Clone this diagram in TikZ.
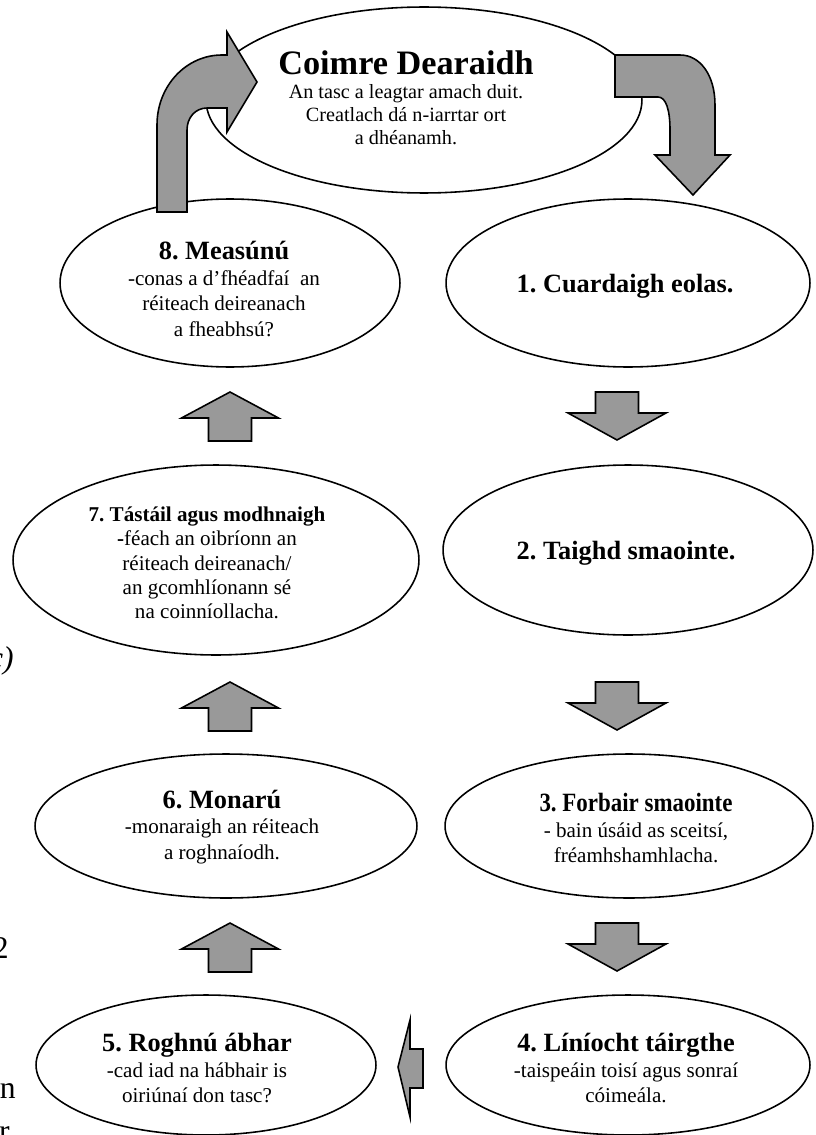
\documentclass[tikz,border=0pt]{standalone}
\usepackage{fontspec}
\usepackage{graphicx}
\setmainfont{Liberation Serif}
\usetikzlibrary{shapes.geometric}
\frenchspacing
\definecolor{arrowgrey}{RGB}{153,153,153}
\newcommand{\stephead}[2][15]{{\fontsize{#1}{14}\selectfont\bfseries #2}}
\tikzset{
  phase/.style={draw, ellipse, fill=white, line width=0.9pt, inner sep=0pt},
  steptext/.style={align=center, inner sep=0pt, font=\fontsize{12}{14.5}\selectfont},
  rest/.style={anchor=base east, inner sep=0pt, font=\fontsize{18}{18}\selectfont},
  blockarrow/.style={fill=arrowgrey, draw=black, line width=0.9pt, line join=miter},
  upblock/.pic={\filldraw[blockarrow] (0,0) -- (48.5,26) -- (21.5,26) -- (21.5,49) -- (-21.5,49) -- (-21.5,26) -- (-48.5,26) -- cycle;},
  downblock/.pic={\filldraw[blockarrow] (-21.5,0) -- (21.5,0) -- (21.5,21) -- (49,21) -- (0,48) -- (-49,21) -- (-21.5,21) -- cycle;}
}

\begin{document}
\begin{tikzpicture}[x=0.02cm, y=-0.02cm]
  \useasboundingbox (0,0) rectangle (815,1135);
  % stray words from the page beside
  \node[rest, font=\fontsize{18}{18}\selectfont\itshape] (restc) at (14,668) {c)};
  \node[rest] (resttwo) at (9,958) {2};
  \node[rest] (restan) at (16,1098) {an};
  \node[rest] (restr) at (10,1141) {r};
  % the brief
  \node[phase, minimum width=8.72cm, minimum height=3.72cm] (brief) at (424,100) {};
  \node[steptext, font=\fontsize{11.5}{13.2}\selectfont] (brieftext) at (406,98)
    {\stephead[19.5]{Coimre Dearaidh}\\An tasc a leagtar amach duit.\\Creatlach dá n-iarrtar ort\\a dhéanamh.};
  % the eight steps
  \node[phase, minimum width=6.8cm, minimum height=3.36cm] (measunu) at (230,283) {};
  \node[steptext] (measunutext) at (224,289)
    {\stephead{8. Measúnú}\\-conas a d’fhéadfaí~ an\\réiteach deireanach\\a fheabhsú?};
  \node[phase, minimum width=7.28cm, minimum height=3.36cm] (cuardaigh) at (628,283) {};
  \node[steptext] (cuardaightext) at (625,286) {\stephead{1. Cuardaigh eolas.}};
  \node[phase, minimum width=8.12cm, minimum height=3.8cm] (tastail) at (216,560) {};
  \node[steptext, font=\fontsize{12}{13.8}\selectfont] (tastailtext) at (207,563)
    {\stephead[12]{7. Tástáil agus modhnaigh}\\\textbf{-}féach an oibríonn an\\réiteach deireanach/\\an gcomhlíonann sé\\na coinníollacha.};
  \node[phase, minimum width=7.4cm, minimum height=3.4cm] (taighd) at (628,550) {};
  \node[steptext] (taighdtext) at (626,553) {\stephead{2. Taighd smaointe.}};
  \node[phase, minimum width=7.64cm, minimum height=2.88cm] (monaru) at (226,826) {};
  \node[steptext] (monarutext) at (222,827)
    {\stephead{6. Monarú}\\-monaraigh an réiteach\\a roghnaíodh.};
  \node[phase, minimum width=7.36cm, minimum height=2.88cm] (forbair) at (629,826) {};
  \node[steptext] (forbairtext) at (636,828)
    {\scalebox{0.87}[1]{\stephead{3. Forbair smaointe}}\\- bain úsáid as sceitsí,\\fréamhshamhlacha.};
  \node[phase, minimum width=6.8cm, minimum height=2.8cm] (roghnu) at (206,1065) {};
  \node[steptext] (roghnutext) at (197,1068)
    {\stephead{5. Roghnú ábhar}\\-cad iad na hábhair is\\oiriúnaí don tasc?};
  \node[phase, minimum width=7.28cm, minimum height=2.8cm] (liniocht) at (628,1065) {};
  \node[steptext] (liniochttext) at (626,1068)
    {\stephead{4. Líníocht táirgthe}\\-taispeáin toisí agus sonraí\\cóimeála.};
  % bent arrows round the brief
  \filldraw[blockarrow] (157,212) -- (157,125) .. controls (157,86) and (186,55) .. (222,55) -- (227,55)
    -- (227,32) -- (257,82) -- (227,132) -- (227,108) -- (207,108)
    .. controls (195,108) and (187,118) .. (187,130) -- (187,212) -- cycle;
  \filldraw[blockarrow] (615,55) -- (680,55) .. controls (700,55) and (715,75) .. (715,105) -- (715,155)
    -- (730,155) -- (693,195) -- (655,155) -- (670,155) -- (670,130)
    .. controls (670,110) and (666,97) .. (658,97) -- (615,97) -- cycle;
  % arrows between the steps
  \pic at (617,392) {downblock};
  \pic at (617,682) {downblock};
  \pic at (617,923) {downblock};
  \pic at (230,392) {upblock};
  \pic at (230,682) {upblock};
  \pic at (230,923) {upblock};
  \filldraw[blockarrow] (398,1067) -- (410,1020) -- (410,1049) -- (423,1049) -- (423,1088) -- (410,1088) -- (410,1117) -- cycle;
\end{tikzpicture}
\end{document}
